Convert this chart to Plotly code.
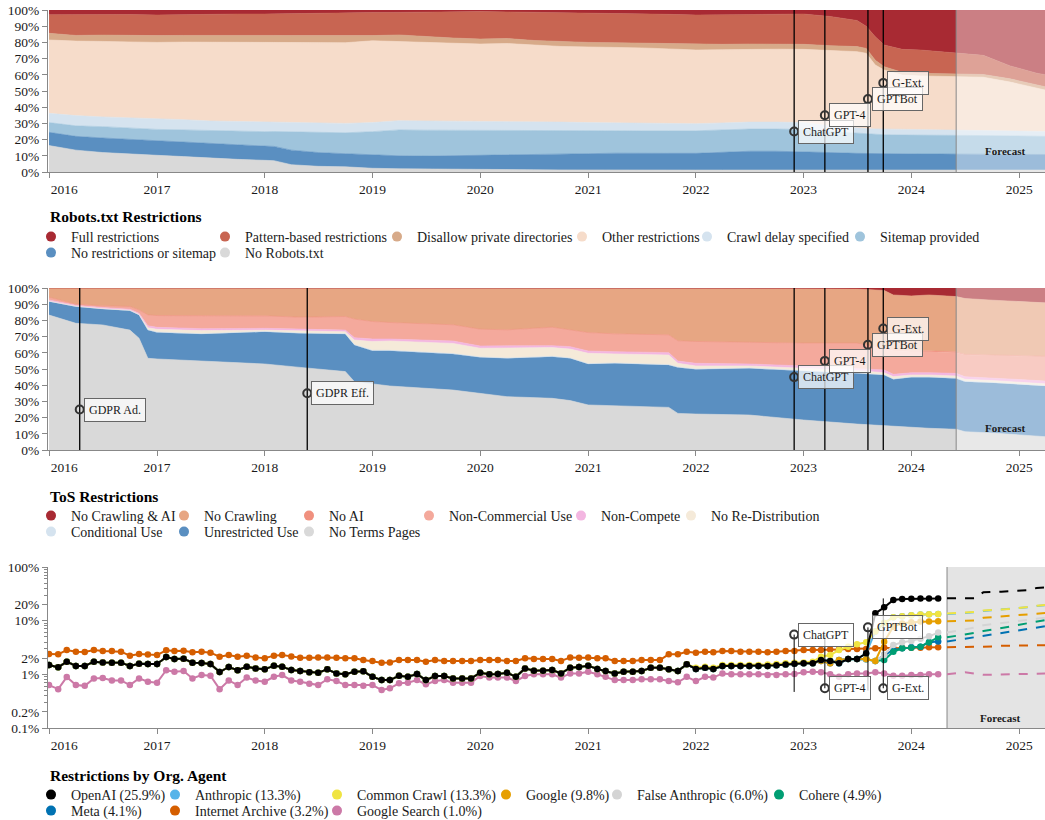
import numpy as np
import pandas as pd
import plotly.graph_objects as go

W, H = 1045, 820
FONT = "Liberation Serif"
INK = "#1a1a1a"
AXIS = "#888888"

# ======================= Robots.txt panel (top) =======================
robots_dates = [
    "2016-01-01", "2016-04-01", "2016-07-01", "2016-10-01", "2017-01-01", "2017-04-01",
    "2017-07-01", "2017-10-01", "2018-01-01", "2018-02-01", "2018-04-01", "2018-07-01",
    "2018-10-01", "2019-01-01", "2019-04-01", "2019-07-01", "2019-10-01", "2020-01-01",
    "2020-04-01", "2020-07-01", "2020-10-01", "2021-01-01", "2021-04-01", "2021-07-01",
    "2021-10-01", "2022-01-01", "2022-04-01", "2022-07-01", "2022-10-01", "2023-01-01",
    "2023-04-01", "2023-07-01", "2023-08-01", "2023-09-01", "2023-10-01", "2023-12-01",
    "2024-02-01", "2024-04-01", "2024-06-01", "2024-09-01", "2024-12-01", "2025-03-01",
    "2025-04-01",
]
# upper edge (% of tokens, cumulative) of each stacked layer
robots_top_no_robots = [
    16.3, 13.5, 12.0, 11.0, 10.3, 9.5, 8.5, 7.8, 7.2, 7.0, 4.5, 3.5, 3.2, 2.3, 2.0,
    1.8, 1.7, 1.6, 1.5, 1.4, 1.3, 1.2, 1.2, 1.2, 1.2, 1.2, 1.2, 1.2, 1.2, 1.2,
    1.2, 1.2, 1.2, 1.2, 1.2, 1.2, 1.2, 1.2, 1.2, 1.2, 1.2, 1.2, 1.2]
robots_top_no_restrictions = [
    24.5, 22.0, 21.0, 20.0, 19.3, 18.5, 17.5, 16.8, 16.0, 15.8, 13.5, 12.0, 11.3, 10.5, 10.0,
    9.8, 10.0, 10.1, 10.5, 10.8, 11.1, 11.3, 11.6, 11.4, 11.5, 11.5, 12.3, 12.8, 12.8, 12.6,
    12.0, 11.5, 11.4, 11.3, 11.2, 11.1, 11.1, 11.1, 11.1, 11.0, 11.0, 10.8, 10.8]
robots_top_sitemap = [
    30.5, 28.5, 28.0, 27.0, 26.3, 26.0, 25.5, 25.2, 24.9, 25.0, 24.8, 24.3, 24.2, 24.9, 26.0,
    25.8, 25.7, 25.9, 25.8, 25.7, 25.6, 25.5, 25.5, 25.4, 25.4, 25.4, 26.0, 26.5, 26.5, 26.3,
    25.0, 23.9, 23.5, 23.2, 23.0, 22.8, 22.8, 22.8, 22.7, 22.5, 22.3, 22.0, 22.0]
robots_top_crawl_delay = [
    36.2, 34.8, 34.0, 33.5, 32.7, 32.3, 31.5, 31.2, 31.0, 31.0, 30.8, 30.4, 30.0, 30.5, 31.7,
    31.5, 31.4, 31.5, 31.3, 31.0, 30.8, 30.5, 30.4, 30.2, 30.1, 29.8, 30.3, 30.8, 30.8, 30.5,
    28.5, 27.0, 26.8, 26.6, 26.5, 26.3, 26.3, 26.1, 25.9, 25.5, 25.3, 25.0, 25.0]
robots_top_other = [
    81.5, 80.8, 80.6, 80.3, 80.0, 80.2, 80.1, 80.0, 79.8, 79.8, 79.8, 79.8, 79.8, 81.0, 80.6,
    80.0, 79.5, 79.0, 79.3, 78.3, 77.5, 77.2, 77.0, 76.6, 76.0, 75.3, 75.5, 75.8, 75.8, 75.7,
    75.0, 74.3, 73.3, 66.0, 63.0, 59.8, 59.3, 59.0, 58.8, 58.5, 55.5, 51.5, 50.5]
robots_top_disallow_private = [
    85.6, 84.3, 84.5, 84.2, 84.2, 84.3, 84.4, 84.3, 84.4, 84.3, 84.2, 84.1, 84.0, 84.2, 84.6,
    83.5, 82.7, 82.1, 82.4, 81.2, 80.5, 80.0, 79.8, 79.6, 79.2, 78.8, 78.8, 79.0, 78.9, 78.8,
    78.0, 77.4, 76.3, 69.0, 65.0, 61.5, 60.9, 60.7, 60.5, 60.2, 57.5, 53.5, 52.5]
robots_top_pattern = [
    97.1, 97.2, 97.3, 97.2, 96.9, 97.2, 97.5, 97.5, 97.5, 97.6, 97.8, 98.0, 98.3, 98.4, 98.5,
    98.7, 98.8, 99.0, 98.8, 98.6, 98.3, 98.0, 97.8, 97.6, 97.3, 96.9, 97.0, 97.2, 97.3, 97.5,
    96.0, 93.5, 90.0, 83.5, 78.4, 75.7, 75.3, 74.5, 73.3, 72.0, 65.5, 61.0, 60.0]
robots_top_full = [100.0] * len(robots_dates)

robots_names = ["No Robots.txt", "No restrictions or sitemap", "Sitemap provided",
                "Crawl delay specified", "Other restrictions", "Disallow private directories",
                "Pattern-based restrictions", "Full restrictions"]
robots_colors = ["#d9d9d9", "#5a8fc1", "#9fc4dc", "#d5e3ef", "#f6dcca", "#d7aa89",
                 "#c86552", "#a82a33"]
robots_tops = [robots_top_no_robots, robots_top_no_restrictions, robots_top_sitemap,
               robots_top_crawl_delay, robots_top_other, robots_top_disallow_private,
               robots_top_pattern, robots_top_full]

# ======================= ToS panel (middle) =======================
tos_dates = [
    "2016-01-01", "2016-04-01", "2016-07-01", "2016-10-01", "2016-11-01", "2016-12-01",
    "2017-01-01", "2017-06-01", "2018-01-01", "2018-05-01", "2018-10-01", "2018-11-01",
    "2019-01-01", "2019-03-01", "2019-10-01", "2020-01-01", "2020-04-01", "2020-09-01",
    "2020-11-01", "2021-01-01", "2021-04-01", "2021-10-01", "2021-11-01", "2022-01-01",
    "2022-07-01", "2023-01-01", "2023-07-01", "2023-10-01", "2023-11-01", "2024-01-01",
    "2024-03-01", "2024-06-01", "2024-07-01", "2024-10-01", "2025-01-01", "2025-04-01",
]
tos_top_no_terms = [
    83.3, 78.2, 77.2, 74.0, 69.0, 56.6, 56.2, 55.1, 53.1, 51.0, 48.4, 42.2, 40.7, 39.5, 37.0,
    35.0, 32.9, 31.9, 30.5, 27.8, 27.4, 26.3, 22.6, 22.2, 21.6, 18.5, 16.0, 15.0, 14.4, 14.0,
    13.4, 12.8, 11.3, 10.5, 9.5, 8.2]
tos_top_unrestricted = [
    91.6, 88.5, 87.0, 86.0, 83.3, 74.0, 72.6, 71.6, 73.0, 72.0, 71.6, 64.8, 61.3, 61.3, 59.3,
    57.2, 56.6, 57.6, 56.6, 53.1, 53.5, 52.5, 51.0, 49.8, 50.4, 49.0, 47.3, 46.3, 43.6, 44.9,
    44.9, 44.2, 42.2, 41.5, 40.5, 39.5]
tos_top_conditional = [
    91.8, 88.7, 87.2, 86.2, 83.5, 74.2, 72.8, 71.8, 73.2, 72.2, 71.8, 65.0, 61.5, 61.5, 59.5,
    57.4, 56.8, 57.8, 56.8, 53.3, 53.7, 52.7, 51.2, 50.0, 50.6, 49.2, 47.5, 46.5, 43.8, 45.1,
    45.1, 44.4, 42.4, 41.7, 40.7, 39.7]
tos_top_no_redistribution = [
    92.0, 88.9, 87.4, 86.4, 83.8, 75.5, 74.5, 73.7, 74.0, 73.5, 73.0, 67.9, 66.9, 67.3, 65.8,
    62.8, 62.8, 63.2, 62.3, 59.7, 59.3, 58.6, 53.5, 51.9, 51.9, 50.4, 49.0, 47.7, 45.3, 46.3,
    46.3, 45.7, 43.6, 42.9, 41.8, 40.8]
tos_top_non_compete = [
    92.6, 89.3, 87.9, 86.9, 84.4, 76.7, 75.7, 74.9, 75.1, 74.5, 74.0, 69.3, 68.5, 68.5, 67.3,
    64.2, 64.2, 64.4, 63.8, 61.1, 60.7, 60.1, 54.9, 53.5, 53.1, 51.9, 50.2, 49.4, 46.7, 47.7,
    47.7, 47.3, 45.2, 44.5, 43.5, 42.5]
tos_top_non_commercial = [
    94.2, 90.0, 88.9, 88.5, 86.4, 83.3, 82.9, 82.7, 82.7, 81.9, 82.3, 80.7, 79.2, 78.6, 77.2,
    74.5, 74.1, 75.7, 74.1, 72.4, 71.6, 71.0, 67.3, 66.9, 66.3, 65.8, 65.8, 62.8, 61.3, 60.7,
    60.7, 60.1, 58.6, 58.2, 57.7, 57.4]
tos_top_no_ai = [
    94.3, 90.1, 89.0, 88.6, 86.5, 83.4, 83.0, 82.8, 82.8, 82.0, 82.4, 80.8, 79.3, 78.7, 77.3,
    74.6, 74.2, 75.8, 74.2, 72.5, 71.7, 71.1, 67.4, 67.0, 66.5, 66.0, 66.0, 63.2, 61.8, 61.2,
    61.2, 60.6, 59.1, 58.7, 58.2, 57.9]
tos_top_no_crawling = [
    100.0, 100.0, 100.0, 100.0, 100.0, 99.8, 99.7, 99.7, 99.6, 99.6, 99.6, 99.6, 99.6, 99.6,
    99.6, 99.6, 99.6, 99.6, 99.6, 99.6, 99.6, 99.6, 99.6, 99.6, 99.6, 99.5, 99.4, 98.5, 95.7,
    95.1, 95.7, 94.7, 93.5, 92.5, 91.5, 90.8]
tos_top_no_crawling_ai = [100.0] * len(tos_dates)

tos_names = ["No Terms Pages", "Unrestricted Use", "Conditional Use", "No Re-Distribution",
             "Non-Compete", "Non-Commercial Use", "No AI", "No Crawling", "No Crawling & AI"]
tos_colors = ["#d9d9d9", "#5a8fc1", "#d5e3ef", "#f5ead9", "#f3b6e1", "#f4a99c", "#f0907e",
              "#e7a683", "#a82a33"]
tos_tops = [tos_top_no_terms, tos_top_unrestricted, tos_top_conditional,
            tos_top_no_redistribution, tos_top_non_compete, tos_top_non_commercial,
            tos_top_no_ai, tos_top_no_crawling, tos_top_no_crawling_ai]

# ======================= Restrictions by agent (bottom, % log) =======================
agent_months = pd.date_range("2016-01-01", "2024-04-01", freq="MS")
forecast_months = pd.date_range("2024-05-01", "2025-04-01", freq="MS")

openai = [
    1.49, 1.35, 1.72, 1.43, 1.43, 1.72, 1.67, 1.65, 1.65, 1.43, 1.58, 1.56,
    1.56, 2.10, 1.93, 1.96, 1.65, 1.63, 1.56, 1.10, 1.37, 1.19, 1.39, 1.29,
    1.24, 1.45, 1.39, 1.20, 1.15, 1.09, 1.07, 1.24, 1.04, 1.00, 1.12, 1.14,
    0.90, 0.78, 0.78, 0.94, 0.90, 1.01, 0.78, 0.93, 0.93, 0.84, 0.84, 0.84,
    1.07, 1.00, 1.01, 1.07, 0.90, 1.29, 1.17, 1.17, 1.20, 1.04, 1.33, 1.37,
    1.45, 1.26, 1.15, 1.04, 1.12, 1.12, 1.15, 1.33, 1.33, 1.24, 1.15, 1.54,
    1.26, 1.33, 1.26, 1.43, 1.43, 1.43, 1.43, 1.43, 1.43, 1.47, 1.52, 1.58,
    1.61, 1.61, 1.85, 1.77, 1.61, 1.93, 1.93, 2.47, 13.7, 17.7, 24.3, 25.3,
    25.6, 25.8, 25.8, 25.9]
internet_archive = [
    2.39, 2.36, 2.84, 2.64, 2.61, 2.84, 2.72, 2.72, 2.64, 2.23, 2.39, 2.33,
    2.29, 2.80, 2.72, 2.76, 2.57, 2.64, 2.53, 2.13, 2.29, 2.13, 2.23, 2.07,
    1.99, 2.23, 2.29, 2.16, 2.04, 2.04, 2.07, 2.07, 2.04, 1.99, 1.99, 1.85,
    1.77, 1.65, 1.67, 1.85, 1.85, 1.85, 1.72, 1.85, 1.77, 1.77, 1.77, 1.77,
    1.85, 1.85, 1.85, 1.77, 1.77, 1.99, 1.93, 1.93, 1.93, 1.77, 2.07, 2.04,
    2.07, 1.99, 1.99, 1.77, 1.77, 1.77, 1.85, 1.85, 1.85, 2.36, 2.36, 2.64,
    2.53, 2.64, 2.57, 2.72, 2.72, 2.64, 2.64, 2.64, 2.57, 2.64, 2.72, 2.72,
    2.84, 2.84, 2.84, 2.91, 2.91, 2.96, 2.96, 2.96, 3.05, 3.13, 3.05, 3.09,
    3.13, 3.13, 3.18, 3.20]
google_search = [
    0.63, 0.53, 0.89, 0.63, 0.61, 0.84, 0.85, 0.77, 0.77, 0.63, 0.84, 0.73,
    0.70, 1.19, 1.12, 1.15, 0.84, 0.97, 0.94, 0.53, 0.77, 0.63, 0.87, 0.77,
    0.73, 0.90, 0.97, 0.77, 0.73, 0.67, 0.63, 0.81, 0.75, 0.63, 0.63, 0.61,
    0.63, 0.51, 0.55, 0.68, 0.70, 0.78, 0.65, 0.75, 0.78, 0.70, 0.70, 0.70,
    0.93, 0.87, 0.87, 0.87, 0.75, 0.93, 1.00, 1.00, 1.00, 0.87, 1.04, 1.04,
    1.12, 1.00, 0.90, 0.78, 0.78, 0.78, 0.81, 0.81, 0.81, 0.75, 0.71, 0.90,
    0.75, 0.90, 0.87, 1.04, 1.00, 1.00, 1.00, 1.00, 0.97, 0.97, 1.00, 1.01,
    1.09, 1.12, 1.09, 1.00, 0.90, 1.00, 1.04, 1.04, 1.09, 1.04, 0.94, 0.94,
    0.97, 0.97, 1.00, 1.00]
# Before these dates the other AI agents' lines sit exactly under the OpenAI line.
common_crawl_from_2022 = [
    1.33, 1.39, 1.33, 1.49, 1.49, 1.49, 1.49, 1.49, 1.52, 1.56, 1.61, 1.65,
    1.67, 1.72, 2.13, 2.29, 2.84, 3.28, 3.63, 3.97, 6.30, 9.00, 11.6, 12.1,
    12.6, 13.0, 13.2, 13.3]
anthropic_from_2023 = [1.61, 1.61, 1.85, 1.77, 1.61, 1.93, 1.93, 2.47, 6.30, 9.00, 11.6, 12.1,
                       12.6, 13.0, 13.2, 13.3]
google_from_2023 = [1.61, 1.61, 1.77, 1.61, 1.85, 1.93, 1.93, 1.93, 1.77, 4.06, 7.73, 8.90,
                    9.30, 9.60, 9.70, 9.80]
false_anthropic_from_2023 = [1.61, 1.61, 1.85, 1.77, 1.61, 1.93, 1.93, 1.91, 1.77, 2.29, 3.51,
                             3.97, 4.20, 4.60, 5.10, 6.00]
cohere_from_2023 = [1.61, 1.61, 1.85, 1.77, 1.61, 1.93, 1.93, 1.91, 1.77, 1.85, 2.64, 3.05,
                    3.13, 3.28, 3.97, 4.90]
meta_from_2023 = [1.61, 1.61, 1.77, 1.61, 1.85, 1.93, 1.93, 1.91, 1.77, 2.29, 2.84, 3.05,
                  3.18, 3.28, 3.97, 4.10]

common_crawl = openai[:72] + common_crawl_from_2022
anthropic = openai[:84] + anthropic_from_2023
google = openai[:84] + google_from_2023
false_anthropic = openai[:84] + false_anthropic_from_2023
cohere = openai[:84] + cohere_from_2023
meta = openai[:84] + meta_from_2023

openai_fc = [26.1, 26.1, 26.1, 26.3, 33.7, 34.7, 34.7, 35.6, 36.0, 37.0, 40.7, 41.8]
anthropic_fc = [13.3, 13.6, 13.9, 14.3, 15.2, 15.7, 16.0, 16.4, 16.9, 17.8, 18.8, 19.4]
common_crawl_fc = [13.6, 13.8, 14.0, 14.5, 15.5, 16.0, 16.2, 16.5, 17.0, 18.0, 19.0, 19.6]
google_fc = [9.8, 9.9, 10.0, 10.1, 11.3, 11.6, 11.9, 12.2, 12.6, 13.0, 13.5, 13.9]
false_anthropic_fc = [6.0, 6.4, 6.9, 7.4, 8.2, 8.6, 9.0, 9.4, 9.9, 10.4, 10.9, 11.4]
cohere_fc = [4.9, 5.2, 5.5, 5.9, 6.4, 6.9, 7.3, 7.8, 8.4, 9.0, 9.7, 10.3]
meta_fc = [4.1, 4.3, 4.6, 4.9, 5.2, 5.6, 5.9, 6.3, 6.7, 7.1, 7.5, 7.9]
internet_archive_fc = [3.2, 3.2, 3.2, 3.3, 3.3, 3.3, 3.4, 3.4, 3.4, 3.4, 3.5, 3.5]
google_search_fc = [1.0, 1.05, 1.09, 1.03, 0.98, 0.98, 0.99, 1.0, 1.0, 1.01, 1.02, 1.04]

agent_names = ["OpenAI (25.9%)", "Anthropic (13.3%)", "Common Crawl (13.3%)", "Google (9.8%)",
               "False Anthropic (6.0%)", "Cohere (4.9%)", "Meta (4.1%)",
               "Internet Archive (3.2%)", "Google Search (1.0%)"]
agent_colors = ["#000000", "#56b4e9", "#f0e442", "#e69f00", "#d4d4d4", "#009e73", "#0072b2",
                "#d55e00", "#cc79a7"]
agent_series = [openai, anthropic, common_crawl, google, false_anthropic, cohere, meta,
                internet_archive, google_search]
agent_forecasts = [openai_fc, anthropic_fc, common_crawl_fc, google_fc, false_anthropic_fc,
                   cohere_fc, meta_fc, internet_archive_fc, google_search_fc]
agent_draw_order = [8, 7, 6, 5, 4, 3, 1, 2, 0]

# ======================= Events =======================
event_names = ["ChatGPT", "GPT-4", "GPTBot", "G-Ext."]
event_dates = ["2022-11-30", "2023-03-14", "2023-08-07", "2023-09-28"]
robots_event_pct = [25, 35, 45, 55]
tos_event_pct = [45, 55, 65, 75]
agent_event_pct = [5.5, 0.55, 7.5, 0.55]
agent_event_low = [0.47, 0.55, 0.5, 0.55]
agent_event_high = [5.5, 5.4, 7.5, 26.0]
gdpr_names = ["GDPR Ad.", "GDPR Eff."]
gdpr_dates = ["2016-04-14", "2018-05-25"]
gdpr_pct = [25, 35]

forecast_start_share = "2024-06-01"
forecast_start_agents = "2024-05-01"
x_end = "2025-04-01"

# ======================= Figure =======================
fig = go.Figure()


def add_stack(dates, tops, names, colors, group, xa, ya):
    prev = np.zeros(len(dates))
    for top, name, color in zip(tops, names, colors):
        top = np.array(top, dtype=float)
        share = top - prev
        prev = top
        fig.add_trace(go.Scatter(
            x=dates, y=share, stackgroup=group, name=name, mode="lines",
            line=dict(width=0.6, color=color), fillcolor=color,
            showlegend=False, hoverinfo="skip", xaxis=xa, yaxis=ya))


add_stack(robots_dates, robots_tops, robots_names, robots_colors, "robots", "x", "y")
add_stack(tos_dates, tos_tops, tos_names, tos_colors, "tos", "x2", "y2")

# agent lines
for i in agent_draw_order:
    fig.add_trace(go.Scatter(
        x=agent_months, y=agent_series[i], mode="lines+markers", name=agent_names[i],
        line=dict(color=agent_colors[i], width=2), marker=dict(color=agent_colors[i], size=6.5),
        showlegend=False, hoverinfo="skip", xaxis="x3", yaxis="y3"))
for i in agent_draw_order:
    fig.add_trace(go.Scatter(
        x=forecast_months, y=agent_forecasts[i], mode="lines", name=agent_names[i] + " forecast",
        line=dict(color=agent_colors[i], width=2, dash="dash"),
        showlegend=False, hoverinfo="skip", xaxis="x3", yaxis="y3"))

# event rules, markers and labels
label_style = dict(showarrow=False, xanchor="left", yanchor="middle", xshift=4,
                   bgcolor="rgba(255,255,255,0.72)", bordercolor="#666666", borderwidth=1,
                   borderpad=4, font=dict(family=FONT, size=12, color=INK))


def add_events(names, dates, pcts, xa, ya, lows=None, highs=None, log=False):
    for k, (n, d, p) in enumerate(zip(names, dates, pcts)):
        lo = 0 if lows is None else lows[k]
        hi = 100 if highs is None else highs[k]
        fig.add_trace(go.Scatter(x=[d, d], y=[lo, hi], mode="lines",
                                 line=dict(color="#000000", width=1.3 if not log else 1),
                                 showlegend=False, hoverinfo="skip", xaxis=xa, yaxis=ya))
    fig.add_trace(go.Scatter(x=dates, y=pcts, mode="markers",
                             marker=dict(symbol="circle-open", size=8, color="#333333",
                                         line=dict(width=2)),
                             showlegend=False, hoverinfo="skip", xaxis=xa, yaxis=ya))
    for n, d, p in zip(names, dates, pcts):
        fig.add_annotation(x=d, y=(np.log10(p) if log else p), xref=xa, yref=ya, text=n,
                           **label_style)


add_events(event_names, event_dates, robots_event_pct, "x", "y")
add_events(gdpr_names + event_names, gdpr_dates + event_dates, gdpr_pct + tos_event_pct,
           "x2", "y2")
add_events(event_names, event_dates, agent_event_pct, "x3", "y3",
           lows=agent_event_low, highs=agent_event_high, log=True)

# forecast regions
shapes = []
for xa, ya in (("x", "y"), ("x2", "y2")):
    shapes.append(dict(type="rect", xref=xa, yref=ya + " domain", x0=forecast_start_share,
                       x1=x_end, y0=0, y1=1, fillcolor="rgba(255,255,255,0.4)",
                       line=dict(width=0), layer="above"))
    shapes.append(dict(type="line", xref=xa, yref=ya + " domain", x0=forecast_start_share,
                       x1=forecast_start_share, y0=0, y1=1, line=dict(color=AXIS, width=1),
                       layer="above"))
shapes.append(dict(type="rect", xref="x3", yref="y3 domain", x0=forecast_start_agents,
                   x1=x_end, y0=0, y1=1, fillcolor="#e4e4e4", line=dict(width=0),
                   layer="below"))
shapes.append(dict(type="line", xref="x3", yref="y3 domain", x0=forecast_start_agents,
                   x1=forecast_start_agents, y0=0, y1=1, line=dict(color=AXIS, width=1),
                   layer="below"))

fc_font = dict(family=FONT, size=11, color=INK)
fig.add_annotation(x="2024-11-13", y=13.1, xref="x", yref="y", text="<b>Forecast</b>",
                   showarrow=False, font=fc_font)
fig.add_annotation(x="2024-11-13", y=13.4, xref="x2", yref="y2", text="<b>Forecast</b>",
                   showarrow=False, font=fc_font)
fig.add_annotation(x="2024-10-29", y=np.log10(0.156), xref="x3", yref="y3",
                   text="<b>Forecast</b>", showarrow=False, font=fc_font)

# ======================= Legends (one per entry, laid out as a grid) =======================
ML, MT = 48, 10
PH = H - MT


def py(px):
    return (H - px) / PH


legend_titles = ["Robots.txt Restrictions", "ToS Restrictions", "Restrictions by Org. Agent"]
legend_title_y = [217, 496, 775]

robots_legend = ["Full restrictions", "Pattern-based restrictions",
                 "Disallow private directories", "Other restrictions",
                 "Crawl delay specified", "Sitemap provided", "No restrictions or sitemap",
                 "No Robots.txt"]
robots_legend_colors = ["#a82a33", "#c86552", "#d7aa89", "#f6dcca", "#d5e3ef", "#9fc4dc",
                        "#5a8fc1", "#d9d9d9"]
robots_legend_x = [67, 241, 413, 598, 723, 876, 67, 241]
robots_legend_y = [237] * 6 + [253] * 2

tos_legend = ["No Crawling & AI", "No Crawling", "No AI", "Non-Commercial Use", "Non-Compete",
              "No Re-Distribution", "Conditional Use", "Unrestricted Use", "No Terms Pages"]
tos_legend_colors = ["#a82a33", "#e7a683", "#f0907e", "#f4a99c", "#f3b6e1", "#f5ead9",
                     "#d5e3ef", "#5a8fc1", "#d9d9d9"]
tos_legend_x = [67, 200, 325, 445, 597, 707, 67, 200, 325]
tos_legend_y = [516] * 6 + [532] * 3

agent_legend_x = [67, 191, 353, 522, 633, 795, 67, 191, 353]
agent_legend_y = [795] * 6 + [811] * 3

legend_entries = []
for n, c, x, y in zip(robots_legend, robots_legend_colors, robots_legend_x, robots_legend_y):
    legend_entries.append((n, c, x, y))
for n, c, x, y in zip(tos_legend, tos_legend_colors, tos_legend_x, tos_legend_y):
    legend_entries.append((n, c, x, y))
for n, c, x, y in zip(agent_names, agent_colors, agent_legend_x, agent_legend_y):
    legend_entries.append((n, c, x, y))

legend_layout = {}
for k, (n, c, tx, ty) in enumerate(legend_entries):
    key = "legend" if k == 0 else f"legend{k + 1}"
    fig.add_trace(go.Scatter(x=[None], y=[None], mode="markers", name=n,
                             marker=dict(color=c, size=10), legend=key, showlegend=True,
                             hoverinfo="skip", xaxis="x", yaxis="y"))
    legend_layout[key] = dict(
        x=(tx - 36) / W, xref="container", y=(H - ty) / H, yref="container",
        xanchor="left", yanchor="middle", bgcolor="rgba(0,0,0,0)", borderwidth=0,
        orientation="v", font=dict(family=FONT, size=14, color=INK), itemclick=False,
        itemdoubleclick=False)

for t, ty in zip(legend_titles, legend_title_y):
    fig.add_annotation(x=0, y=py(ty), xref="paper", yref="paper",
                       text=f"<b>{t}</b>", showarrow=False, xanchor="left", yanchor="middle",
                       font=dict(family=FONT, size=15.5, color="#000000"))

# ======================= Axes =======================
X_RANGE = ["2015-12-28 12:00", "2025-03-29"]
year_vals = [f"{y}-01-01" for y in range(2016, 2026)]
year_text = ["\u00a0" * 9 + "2016"] + [str(y) for y in range(2017, 2026)]
tickfont = dict(family=FONT, size=13.5, color=INK)

xcommon = dict(type="date", range=X_RANGE, tickmode="array", tickvals=year_vals,
               ticktext=year_text, showgrid=False, zeroline=False, showline=True,
               linecolor=AXIS, linewidth=1, ticks="outside", ticklen=5, tickcolor=AXIS,
               tickfont=tickfont, fixedrange=True)
pct_vals = list(range(0, 101, 10))
ycommon = dict(range=[0, 100], tickmode="array", tickvals=pct_vals,
               ticktext=[f"{v}%" for v in pct_vals], showgrid=False, zeroline=False,
               showline=True, linecolor=AXIS, linewidth=1, ticks="outside", ticklen=5,
               tickcolor=AXIS, tickfont=tickfont, fixedrange=True)

log_vals = [0.1, 0.2, 1, 2, 10, 20, 100]
log_text = ["0.1%", "0.2%", "1%", "2%", "10%", "20%", "100%"]
minor_vals = [0.3, 0.4, 0.5, 0.6, 0.7, 0.8, 0.9, 3, 4, 5, 6, 7, 8, 9, 30, 40, 50, 60, 70, 80, 90]

layout = dict(
    width=W, height=H, margin=dict(l=ML, r=0, t=MT, b=0, autoexpand=False),
    paper_bgcolor="white", plot_bgcolor="rgba(0,0,0,0)",
    font=dict(family=FONT, size=13.5, color=INK),
    xaxis=dict(domain=[0, 1], anchor="y", **xcommon),
    yaxis=dict(domain=[py(172), py(10)], anchor="x", **ycommon),
    xaxis2=dict(domain=[0, 1], anchor="y2", **xcommon),
    yaxis2=dict(domain=[py(450), py(288)], anchor="x2", **ycommon),
    xaxis3=dict(domain=[0, 1], anchor="y3", **xcommon),
    yaxis3=dict(domain=[py(728), py(567)], anchor="x3", type="log", range=[-1, 2],
                tickmode="array", tickvals=log_vals, ticktext=log_text, showgrid=False,
                zeroline=False, showline=True, linecolor=AXIS, linewidth=1, ticks="outside",
                ticklen=5, tickcolor=AXIS, tickfont=tickfont, fixedrange=True,
                minor=dict(tickmode="array", tickvals=minor_vals, ticks="outside", ticklen=3,
                           tickcolor=AXIS, showgrid=False)),
    shapes=shapes,
    hovermode=False,
)
layout.update(legend_layout)
fig.update_layout(**layout)

fig.write_html("out.html", include_plotlyjs=True, config={"displayModeBar": False},
               post_script="document.body.style.margin='0';document.body.style.overflow='hidden';")
